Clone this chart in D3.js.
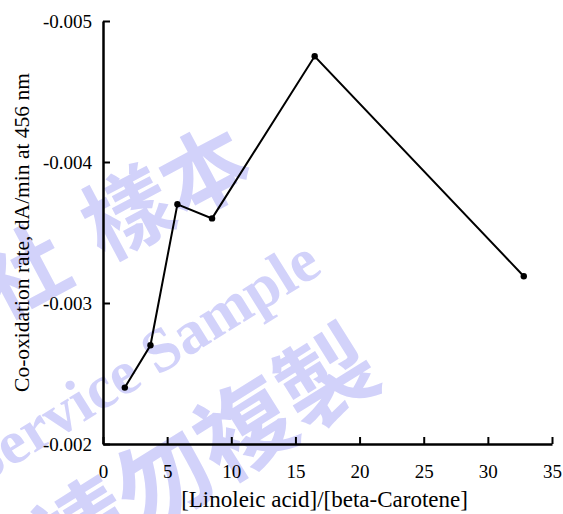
<!DOCTYPE html>
<html>
<head>
<meta charset="utf-8">
<script src="https://cdn.jsdelivr.net/npm/d3@7"></script>
<style>
  body { margin: 0; background: #fff; }
  svg { display: block; }
  svg text { font-family: "Liberation Serif", "Times New Roman", "DejaVu Serif", serif; }
  svg text.cjk { font-family: "Noto Sans CJK TC", "Noto Sans CJK SC", sans-serif; }
</style>
</head>
<body>
<svg id="chart"></svg>
<script>
var width = 563;
var height = 514;

// data
var ratio = [1.7, 3.7, 5.8, 8.5, 16.5, 32.8];
var rate = [-0.0024, -0.0027, -0.0037, -0.0036, -0.00475, -0.00319];
var xTicks = [0, 5, 10, 15, 20, 25, 30, 35];
var yTicks = [-0.005, -0.004, -0.003, -0.002];

var padding = { t: 21, r: 11, b: 70, l: 103 };
var chartWidth = width - padding.l - padding.r;
var chartHeight = height - padding.t - padding.b;
var serif = '"Liberation Serif", "Times New Roman", serif';

var svg = d3.select('#chart')
    .attr('width', width)
    .attr('height', height);

// watermark
var wm = svg.append('g')
    .attr('fill', '#d2d2fa');

wm.append('text')
    .attr('class', 'cjk')
    .attr('transform', 'translate(38,300) rotate(-28)')
    .attr('text-anchor', 'middle')
    .attr('font-weight', 'bold')
    .attr('font-size', 88)
    .text('社');

wm.append('text')
    .attr('class', 'cjk')
    .attr('transform', 'translate(181,221) rotate(-28)')
    .attr('text-anchor', 'middle')
    .attr('font-weight', 'bold')
    .attr('font-size', 88)
    .text('樣本');

wm.append('text')
    .attr('transform', 'translate(324,272) rotate(-32)')
    .attr('text-anchor', 'end')
    .attr('font-weight', 'bold')
    .attr('font-size', 62)
    .text('Service Sample');

wm.append('text')
    .attr('class', 'cjk')
    .attr('transform', 'translate(223,484) rotate(-32)')
    .attr('text-anchor', 'middle')
    .attr('font-weight', 'bold')
    .attr('font-size', 96)
    .text('請勿複製');

var g = svg.append('g')
    .attr('transform', 'translate(' + padding.l + ',' + padding.t + ')');

var xScale = d3.scaleLinear().domain([0, 35]).range([0, chartWidth]);
var yScale = d3.scaleLinear().domain([-0.002, -0.005]).range([chartHeight, 0]);

var xAxis = d3.axisBottom(xScale)
    .tickValues(xTicks)
    .tickSizeInner(-7)
    .tickSizeOuter(0)
    .tickPadding(21)
    .tickFormat(d => String(d));

var yAxis = d3.axisLeft(yScale)
    .tickValues(yTicks)
    .tickSizeInner(-7)
    .tickSizeOuter(0)
    .tickPadding(11)
    .tickFormat(d => d.toFixed(3));

var gx = g.append('g')
    .attr('transform', 'translate(0,' + chartHeight + ')')
    .call(xAxis);

var gy = g.append('g')
    .call(yAxis);

[gx, gy].forEach(function (ax) {
    ax.attr('font-family', serif).attr('font-size', 19);
    ax.select('.domain').attr('stroke', '#000').attr('stroke-width', 2.5);
    ax.selectAll('.tick line').attr('stroke', '#000').attr('stroke-width', 2);
    ax.selectAll('.tick text').attr('fill', '#000');
});

// axis titles
svg.append('text')
    .attr('x', padding.l + chartWidth / 2 - 3)
    .attr('y', 507)
    .attr('text-anchor', 'middle')
    .attr('font-size', 23)
    .text('[Linoleic acid]/[beta-Carotene]');

svg.append('text')
    .attr('transform', 'translate(29,' + (padding.t + chartHeight / 2) + ') rotate(-90)')
    .attr('text-anchor', 'middle')
    .attr('font-size', 21.5)
    .text('Co-oxidation rate, dA/min at 456 nm');

// line + markers
var points = ratio.map((r, i) => ({ x: r, y: rate[i] }));

var line = d3.line()
    .x(d => xScale(d.x))
    .y(d => yScale(d.y));

g.append('path')
    .datum(points)
    .attr('fill', 'none')
    .attr('stroke', '#000')
    .attr('stroke-width', 2)
    .attr('d', line);

g.selectAll('.pt')
    .data(points)
    .enter()
    .append('circle')
    .attr('class', 'pt')
    .attr('cx', d => xScale(d.x))
    .attr('cy', d => yScale(d.y))
    .attr('r', 3.2)
    .attr('fill', '#000');
</script>
</body>
</html>
